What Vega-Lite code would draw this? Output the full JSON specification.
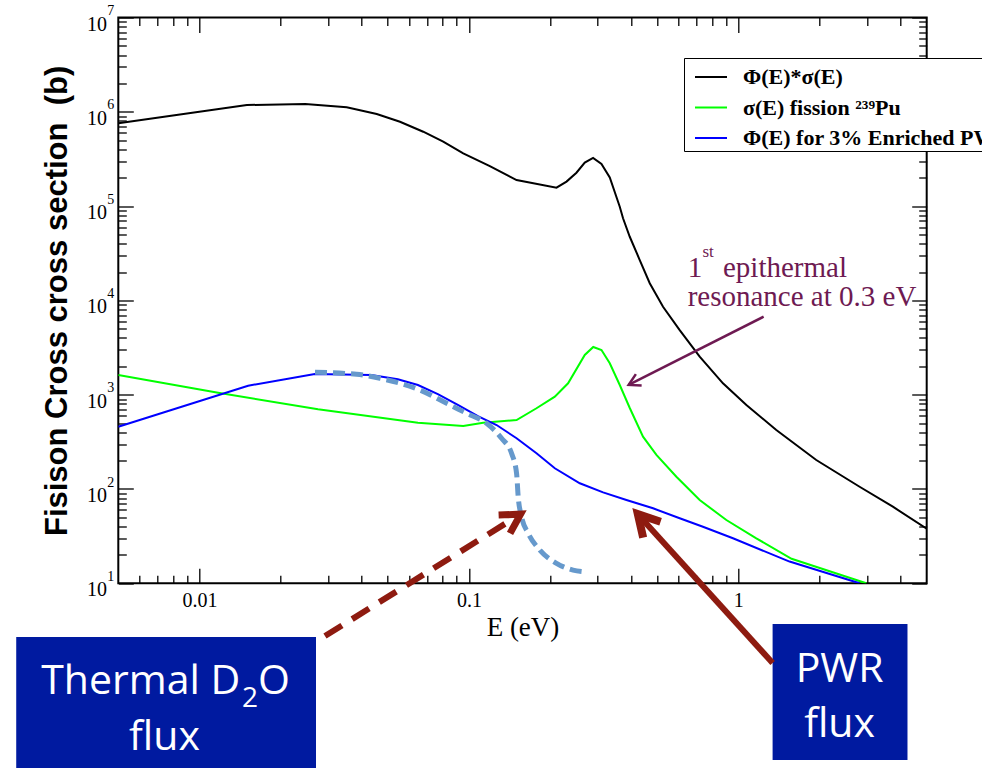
{
  "$schema": "https://vega.github.io/schema/vega-lite/v6.json",
  "width": 808.4,
  "height": 565.8,
  "autosize": {"type": "none"},
  "padding": {"left": 118.3, "top": 17.5, "right": 55.3, "bottom": 184.7},
  "background": "white",
  "config": {
    "view": {"stroke": "black", "strokeWidth": 2},
    "axis": {"grid": false, "domain": false, "labelFont": "Liberation Serif", "labelColor": "black", "tickColor": "black", "titleColor": "black"}
  },
  "datasets": {
    "curves": [
      {"series": "Φ(E)*σ(E)", "E": 0.005, "V": 755000},
      {"series": "Φ(E)*σ(E)", "E": 0.015, "V": 1180000},
      {"series": "Φ(E)*σ(E)", "E": 0.0247, "V": 1210000},
      {"series": "Φ(E)*σ(E)", "E": 0.0352, "V": 1120000},
      {"series": "Φ(E)*σ(E)", "E": 0.0455, "V": 949000},
      {"series": "Φ(E)*σ(E)", "E": 0.0555, "V": 785000},
      {"series": "Φ(E)*σ(E)", "E": 0.0677, "V": 615000},
      {"series": "Φ(E)*σ(E)", "E": 0.0803, "V": 482000},
      {"series": "Φ(E)*σ(E)", "E": 0.0953, "V": 363000},
      {"series": "Φ(E)*σ(E)", "E": 0.1196, "V": 266000},
      {"series": "Φ(E)*σ(E)", "E": 0.1503, "V": 189000},
      {"series": "Φ(E)*σ(E)", "E": 0.2114, "V": 157000},
      {"series": "Φ(E)*σ(E)", "E": 0.2303, "V": 182000},
      {"series": "Φ(E)*σ(E)", "E": 0.2507, "V": 226000},
      {"series": "Φ(E)*σ(E)", "E": 0.2692, "V": 289000},
      {"series": "Φ(E)*σ(E)", "E": 0.289, "V": 324000},
      {"series": "Φ(E)*σ(E)", "E": 0.3105, "V": 280000},
      {"series": "Φ(E)*σ(E)", "E": 0.3333, "V": 201000},
      {"series": "Φ(E)*σ(E)", "E": 0.363, "V": 98600},
      {"series": "Φ(E)*σ(E)", "E": 0.3733, "V": 74300},
      {"series": "Φ(E)*σ(E)", "E": 0.3954, "V": 47300},
      {"series": "Φ(E)*σ(E)", "E": 0.4306, "V": 26800},
      {"series": "Φ(E)*σ(E)", "E": 0.469, "V": 15200},
      {"series": "Φ(E)*σ(E)", "E": 0.5254, "V": 8570},
      {"series": "Φ(E)*σ(E)", "E": 0.6058, "V": 4850},
      {"series": "Φ(E)*σ(E)", "E": 0.7186, "V": 2530},
      {"series": "Φ(E)*σ(E)", "E": 0.8768, "V": 1321},
      {"series": "Φ(E)*σ(E)", "E": 1.071, "V": 778},
      {"series": "Φ(E)*σ(E)", "E": 1.383, "V": 423},
      {"series": "Φ(E)*σ(E)", "E": 1.946, "V": 203},
      {"series": "Φ(E)*σ(E)", "E": 2.818, "V": 105.6},
      {"series": "Φ(E)*σ(E)", "E": 3.744, "V": 64.9},
      {"series": "Φ(E)*σ(E)", "E": 5.0, "V": 38},
      {"series": "σ(E) fission ²³⁹Pu", "E": 0.005, "V": 1618},
      {"series": "σ(E) fission ²³⁹Pu", "E": 0.01173, "V": 1050},
      {"series": "σ(E) fission ²³⁹Pu", "E": 0.02755, "V": 700},
      {"series": "σ(E) fission ²³⁹Pu", "E": 0.0647, "V": 505},
      {"series": "σ(E) fission ²³⁹Pu", "E": 0.0953, "V": 466},
      {"series": "σ(E) fission ²³⁹Pu", "E": 0.113, "V": 505},
      {"series": "σ(E) fission ²³⁹Pu", "E": 0.1503, "V": 539},
      {"series": "σ(E) fission ²³⁹Pu", "E": 0.1782, "V": 718},
      {"series": "σ(E) fission ²³⁹Pu", "E": 0.2084, "V": 952},
      {"series": "σ(E) fission ²³⁹Pu", "E": 0.2334, "V": 1321},
      {"series": "σ(E) fission ²³⁹Pu", "E": 0.2692, "V": 2637},
      {"series": "σ(E) fission ²³⁹Pu", "E": 0.2894, "V": 3206},
      {"series": "σ(E) fission ²³⁹Pu", "E": 0.3105, "V": 2977},
      {"series": "σ(E) fission ²³⁹Pu", "E": 0.3333, "V": 2153},
      {"series": "σ(E) fission ²³⁹Pu", "E": 0.363, "V": 1267},
      {"series": "σ(E) fission ²³⁹Pu", "E": 0.3954, "V": 723},
      {"series": "σ(E) fission ²³⁹Pu", "E": 0.4428, "V": 359},
      {"series": "σ(E) fission ²³⁹Pu", "E": 0.4965, "V": 230},
      {"series": "σ(E) fission ²³⁹Pu", "E": 0.5889, "V": 135},
      {"series": "σ(E) fission ²³⁹Pu", "E": 0.7186, "V": 76.4},
      {"series": "σ(E) fission ²³⁹Pu", "E": 0.9026, "V": 46.9},
      {"series": "σ(E) fission ²³⁹Pu", "E": 1.166, "V": 30},
      {"series": "σ(E) fission ²³⁹Pu", "E": 1.576, "V": 18.2},
      {"series": "σ(E) fission ²³⁹Pu", "E": 2.983, "V": 10},
      {"series": "Φ(E) for 3% Enriched PWR", "E": 0.005, "V": 458},
      {"series": "Φ(E) for 3% Enriched PWR", "E": 0.01516, "V": 1245},
      {"series": "Φ(E) for 3% Enriched PWR", "E": 0.0268, "V": 1660},
      {"series": "Φ(E) for 3% Enriched PWR", "E": 0.0434, "V": 1618},
      {"series": "Φ(E) for 3% Enriched PWR", "E": 0.0545, "V": 1455},
      {"series": "Φ(E) for 3% Enriched PWR", "E": 0.0647, "V": 1267},
      {"series": "Φ(E) for 3% Enriched PWR", "E": 0.0767, "V": 1016},
      {"series": "Φ(E) for 3% Enriched PWR", "E": 0.091, "V": 778},
      {"series": "Φ(E) for 3% Enriched PWR", "E": 0.108, "V": 594},
      {"series": "Φ(E) for 3% Enriched PWR", "E": 0.1267, "V": 477},
      {"series": "Φ(E) for 3% Enriched PWR", "E": 0.1503, "V": 345},
      {"series": "Φ(E) for 3% Enriched PWR", "E": 0.1782, "V": 239},
      {"series": "Φ(E) for 3% Enriched PWR", "E": 0.2084, "V": 166},
      {"series": "Φ(E) for 3% Enriched PWR", "E": 0.258, "V": 115},
      {"series": "Φ(E) for 3% Enriched PWR", "E": 0.3148, "V": 92.2},
      {"series": "Φ(E) for 3% Enriched PWR", "E": 0.3843, "V": 76.4},
      {"series": "Φ(E) for 3% Enriched PWR", "E": 0.4824, "V": 62.4},
      {"series": "Φ(E) for 3% Enriched PWR", "E": 0.6058, "V": 48.9},
      {"series": "Φ(E) for 3% Enriched PWR", "E": 0.7389, "V": 39.8},
      {"series": "Φ(E) for 3% Enriched PWR", "E": 0.955, "V": 30},
      {"series": "Φ(E) for 3% Enriched PWR", "E": 1.549, "V": 17},
      {"series": "Φ(E) for 3% Enriched PWR", "E": 2.818, "V": 10}
    ],
    "d2o": [
      {"E": 0.02685, "V": 1728},
      {"E": 0.03834, "V": 1644},
      {"E": 0.04677, "V": 1493},
      {"E": 0.0658, "V": 1122},
      {"E": 0.0827, "V": 811},
      {"E": 0.0981, "V": 635},
      {"E": 0.1163, "V": 498},
      {"E": 0.1322, "V": 345},
      {"E": 0.144, "V": 239},
      {"E": 0.1503, "V": 146.6},
      {"E": 0.1524, "V": 82.8},
      {"E": 0.1568, "V": 50.8},
      {"E": 0.166, "V": 33.9},
      {"E": 0.1834, "V": 22.5},
      {"E": 0.2114, "V": 16.3},
      {"E": 0.2436, "V": 13.8},
      {"E": 0.2653, "V": 13.3}
    ],
    "boxes": [
      {"E": 0.00209, "E2": 0.02708, "V": 2.695, "V2": 0.09},
      {"E": 1.34, "E2": 4.243, "V": 3.7, "V2": 0.1337}
    ],
    "resShaft": [{"E": 1.241, "V": 6714, "E2": 0.3916, "V2": 1270}],
    "resHead": [{"E": 0.3916, "V": 1270}],
    "pwrShaft": [{"E": 1.34, "V": 1.429, "E2": 0.4236, "V2": 54.1}],
    "pwrHead": [{"E": 0.4236, "V": 54.1}],
    "d2oShaft": [{"E": 0.02924, "V": 2.76, "E2": 0.1556, "V2": 54.2}],
    "d2oHead": [{"E": 0.1556, "V": 54.2}],
    "resText": [
      {"E": 0.6486, "V": 17830, "t": "1"},
      {"E": 0.8768, "V": 17830, "t": "epithermal"},
      {"E": 0.6486, "V": 8790, "t": "resonance at 0.3 eV"}
    ],
    "resSup": [{"E": 0.7355, "V": 29070, "t": "st"}],
    "boxTextCenter": [
      {"E": 0.00742, "V": 0.1707, "t": "flux"},
      {"E": 2.375, "V": 0.905, "t": "PWR"},
      {"E": 2.375, "V": 0.2362, "t": "flux"}
    ],
    "boxTextLeft": [
      {"E": 0.002588, "V": 0.67, "t": "Thermal D"},
      {"E": 0.0165, "V": 0.67, "t": "O"}
    ],
    "boxTextSub": [
      {"E": 0.0144, "V": 0.4878, "t": "2"}
    ]
  },
  "resolve": {"axis": {"x": "independent", "y": "independent"}},
  "layer": [
    {
      "data": {"name": "curves"},
      "mark": {"type": "line", "strokeWidth": 2, "clip": true},
      "encoding": {
        "x": {"field": "E", "type": "quantitative", "scale": {"type": "log", "domain": [0.005, 5], "nice": false},
          "axis": {"orient": "bottom", "values": [0.01, 0.1, 1], "format": "~g", "ticks": false, "domain": false, "labelFontSize": 20, "labelBaseline": "alphabetic", "labelPadding": 23.4, "labelFlush": false, "labelOverlap": false,
            "title": "E (eV)", "titleFont": "Liberation Serif", "titleFontSize": 27, "titleFontWeight": "normal", "titleBaseline": "alphabetic", "titleX": 404.2, "titleY": 51.7}},
        "y": {"field": "V", "type": "quantitative", "scale": {"type": "log", "domain": [10, 10000000], "nice": false},
          "axis": {"orient": "left", "values": [10, 100, 1000, 10000, 100000, 1000000, 10000000], "labelExpr": "'10'", "ticks": false, "domain": false, "labelFontSize": 20, "labelAlign": "right", "labelBaseline": "alphabetic", "labelOffset": 12.5, "labelPadding": 11.8, "labelOverlap": false, "labelFlush": false,
            "title": "Fisison Cross cross section\u00a0 (b)", "titleFont": "Liberation Sans", "titleFontWeight": "bold", "titleFontSize": 31, "titleBaseline": "alphabetic", "titleAngle": 270, "titleAlign": "center", "titleX": -51.6, "titleY": 282.9}},
        "color": {"field": "series", "type": "nominal",
          "scale": {"domain": ["Φ(E)*σ(E)", "σ(E) fission ²³⁹Pu", "Φ(E) for 3% Enriched PWR"], "range": ["#000000", "#00ff00", "#0000ff"]},
          "legend": {"title": null, "orient": "none", "legendX": 565.7, "legendY": 40.5, "direction": "vertical", "fillColor": "white", "strokeColor": "black", "padding": 2,
            "symbolType": "stroke", "symbolSize": 1024, "symbolStrokeWidth": 2, "symbolOffset": 8, "labelOffset": 15, "labelFont": "Liberation Serif", "labelFontWeight": "bold", "labelFontSize": 22, "labelColor": "black", "labelLimit": 600, "rowPadding": 2.5}}
      }
    },
    {
      "data": {"name": "d2o"},
      "mark": {"type": "line", "stroke": "#6699cc", "strokeWidth": 5, "strokeDash": [12, 6], "interpolate": "monotone"},
      "encoding": {
        "x": {"field": "E", "type": "quantitative", "scale": {"type": "log", "domain": [0.005, 5], "nice": false},
          "axis": {"orient": "bottom", "values": [0.01, 0.1, 1], "labels": true, "labelExpr": "''", "domain": false, "ticks": true, "offset": -15, "tickSize": 15, "tickWidth": 1.3, "title": null}},
        "y": {"field": "V", "type": "quantitative", "scale": {"type": "log", "domain": [10, 10000000], "nice": false},
          "axis": {"orient": "left", "values": [10, 100, 1000, 10000, 100000, 1000000, 10000000], "labelExpr": "format(round(log(datum.value)/LN10), 'd')", "ticks": false, "domain": false, "labelFontSize": 14, "labelAlign": "left", "labelBaseline": "alphabetic", "labelOffset": -3, "labelPadding": 11.6, "labelOverlap": false, "labelFlush": false, "title": null}}
      }
    },
    {
      "data": {"name": "boxes"},
      "mark": {"type": "rect", "fill": "#001aa0"},
      "encoding": {
        "x": {"field": "E", "type": "quantitative", "scale": {"type": "log", "domain": [0.005, 5], "nice": false},
          "axis": {"orient": "bottom", "values": [0.006, 0.007, 0.008, 0.009, 0.02, 0.03, 0.04, 0.05, 0.06, 0.07, 0.08, 0.09, 0.2, 0.3, 0.4, 0.5, 0.6, 0.7, 0.8, 0.9, 2, 3, 4], "labels": true, "labelExpr": "''", "domain": false, "ticks": true, "offset": -8, "tickSize": 8, "tickWidth": 1.3, "title": null}},
        "x2": {"field": "E2"},
        "y": {"field": "V", "type": "quantitative", "scale": {"type": "log", "domain": [10, 10000000], "nice": false},
          "axis": {"orient": "left", "values": [10, 100, 1000, 10000, 100000, 1000000, 10000000], "labels": true, "labelExpr": "''", "domain": false, "ticks": true, "offset": -15, "tickSize": 15, "tickWidth": 1.3, "title": null}},
        "y2": {"field": "V2"}
      }
    },
    {
      "data": {"name": "resShaft"},
      "mark": {"type": "rule", "stroke": "#6e1a52", "strokeWidth": 2.5},
      "encoding": {
        "x": {"field": "E", "type": "quantitative", "scale": {"type": "log", "domain": [0.005, 5], "nice": false},
          "axis": {"orient": "top", "values": [0.01, 0.1, 1], "labels": true, "labelExpr": "''", "domain": false, "ticks": true, "offset": -15, "tickSize": 15, "tickWidth": 1.3, "title": null}},
        "x2": {"field": "E2"},
        "y": {"field": "V", "type": "quantitative", "scale": {"type": "log", "domain": [10, 10000000], "nice": false},
          "axis": {"orient": "left", "values": [20, 30, 40, 50, 60, 70, 80, 90, 200, 300, 400, 500, 600, 700, 800, 900, 2000, 3000, 4000, 5000, 6000, 7000, 8000, 9000, 20000, 30000, 40000, 50000, 60000, 70000, 80000, 90000, 200000, 300000, 400000, 500000, 600000, 700000, 800000, 900000, 2000000, 3000000, 4000000, 5000000, 6000000, 7000000, 8000000, 9000000], "labels": true, "labelExpr": "''", "domain": false, "ticks": true, "offset": -8, "tickSize": 8, "tickWidth": 1.3, "title": null}},
        "y2": {"field": "V2"}
      }
    },
    {
      "data": {"name": "resHead"},
      "mark": {"type": "point", "shape": "M-0.9,1.6L0,0L0.9,1.6", "size": 201, "filled": false, "stroke": "#6e1a52", "strokeWidth": 2.5, "opacity": 1, "angle": 243.2, "strokeJoin": "miter"},
      "encoding": {
        "x": {"field": "E", "type": "quantitative", "scale": {"type": "log", "domain": [0.005, 5], "nice": false},
          "axis": {"orient": "top", "values": [0.006, 0.007, 0.008, 0.009, 0.02, 0.03, 0.04, 0.05, 0.06, 0.07, 0.08, 0.09, 0.2, 0.3, 0.4, 0.5, 0.6, 0.7, 0.8, 0.9, 2, 3, 4], "labels": true, "labelExpr": "''", "domain": false, "ticks": true, "offset": -8, "tickSize": 8, "tickWidth": 1.3, "title": null}},
        "y": {"field": "V", "type": "quantitative", "scale": {"type": "log", "domain": [10, 10000000], "nice": false},
          "axis": {"orient": "right", "values": [10, 100, 1000, 10000, 100000, 1000000, 10000000], "labels": true, "labelExpr": "''", "domain": false, "ticks": true, "offset": -15, "tickSize": 15, "tickWidth": 1.3, "title": null}}
      }
    },
    {
      "data": {"name": "pwrShaft"},
      "mark": {"type": "rule", "stroke": "#8e1b10", "strokeWidth": 6},
      "encoding": {
        "x": {"field": "E", "type": "quantitative", "scale": {"type": "log", "domain": [0.005, 5], "nice": false}, "axis": null},
        "x2": {"field": "E2"},
        "y": {"field": "V", "type": "quantitative", "scale": {"type": "log", "domain": [10, 10000000], "nice": false},
          "axis": {"orient": "right", "values": [20, 30, 40, 50, 60, 70, 80, 90, 200, 300, 400, 500, 600, 700, 800, 900, 2000, 3000, 4000, 5000, 6000, 7000, 8000, 9000, 20000, 30000, 40000, 50000, 60000, 70000, 80000, 90000, 200000, 300000, 400000, 500000, 600000, 700000, 800000, 900000, 2000000, 3000000, 4000000, 5000000, 6000000, 7000000, 8000000, 9000000], "labels": true, "labelExpr": "''", "domain": false, "ticks": true, "offset": -8, "tickSize": 8, "tickWidth": 1.3, "title": null}},
        "y2": {"field": "V2"}
      }
    },
    {
      "data": {"name": "pwrHead"},
      "mark": {"type": "point", "shape": "M-0.9,1.6L0,0L0.9,1.6", "size": 683, "filled": false, "stroke": "#8e1b10", "strokeWidth": 8, "opacity": 1, "angle": 317.8, "strokeJoin": "miter"},
      "encoding": {
        "x": {"field": "E", "type": "quantitative", "scale": {"type": "log", "domain": [0.005, 5], "nice": false}, "axis": null},
        "y": {"field": "V", "type": "quantitative", "scale": {"type": "log", "domain": [10, 10000000], "nice": false}, "axis": null}
      }
    },
    {
      "data": {"name": "d2oShaft"},
      "mark": {"type": "rule", "stroke": "#8e1b10", "strokeWidth": 6, "strokeDash": [20, 12]},
      "encoding": {
        "x": {"field": "E", "type": "quantitative", "scale": {"type": "log", "domain": [0.005, 5], "nice": false}, "axis": null},
        "x2": {"field": "E2"},
        "y": {"field": "V", "type": "quantitative", "scale": {"type": "log", "domain": [10, 10000000], "nice": false}, "axis": null},
        "y2": {"field": "V2"}
      }
    },
    {
      "data": {"name": "d2oHead"},
      "mark": {"type": "point", "shape": "M-0.9,1.6L0,0L0.9,1.6", "size": 576, "filled": false, "stroke": "#8e1b10", "strokeWidth": 7, "opacity": 1, "angle": 58.1, "strokeJoin": "miter"},
      "encoding": {
        "x": {"field": "E", "type": "quantitative", "scale": {"type": "log", "domain": [0.005, 5], "nice": false}, "axis": null},
        "y": {"field": "V", "type": "quantitative", "scale": {"type": "log", "domain": [10, 10000000], "nice": false}, "axis": null}
      }
    },
    {
      "data": {"name": "resText"},
      "mark": {"type": "text", "align": "left", "baseline": "alphabetic", "font": "Liberation Serif", "fontSize": 29, "fill": "#6e1a52"},
      "encoding": {
        "x": {"field": "E", "type": "quantitative", "scale": {"type": "log", "domain": [0.005, 5], "nice": false}, "axis": null},
        "y": {"field": "V", "type": "quantitative", "scale": {"type": "log", "domain": [10, 10000000], "nice": false}, "axis": null},
        "text": {"field": "t"}
      }
    },
    {
      "data": {"name": "resSup"},
      "mark": {"type": "text", "align": "left", "baseline": "alphabetic", "font": "Liberation Serif", "fontSize": 17, "fill": "#6e1a52"},
      "encoding": {
        "x": {"field": "E", "type": "quantitative", "scale": {"type": "log", "domain": [0.005, 5], "nice": false}, "axis": null},
        "y": {"field": "V", "type": "quantitative", "scale": {"type": "log", "domain": [10, 10000000], "nice": false}, "axis": null},
        "text": {"field": "t"}
      }
    },
    {
      "data": {"name": "boxTextCenter"},
      "mark": {"type": "text", "align": "center", "baseline": "alphabetic", "font": "Open Sans", "fontSize": 41, "fill": "white"},
      "encoding": {
        "x": {"field": "E", "type": "quantitative", "scale": {"type": "log", "domain": [0.005, 5], "nice": false}, "axis": null},
        "y": {"field": "V", "type": "quantitative", "scale": {"type": "log", "domain": [10, 10000000], "nice": false}, "axis": null},
        "text": {"field": "t"}
      }
    },
    {
      "data": {"name": "boxTextLeft"},
      "mark": {"type": "text", "align": "left", "baseline": "alphabetic", "font": "Open Sans", "fontSize": 41, "fill": "white"},
      "encoding": {
        "x": {"field": "E", "type": "quantitative", "scale": {"type": "log", "domain": [0.005, 5], "nice": false}, "axis": null},
        "y": {"field": "V", "type": "quantitative", "scale": {"type": "log", "domain": [10, 10000000], "nice": false}, "axis": null},
        "text": {"field": "t"}
      }
    },
    {
      "data": {"name": "boxTextSub"},
      "mark": {"type": "text", "align": "left", "baseline": "alphabetic", "font": "Open Sans", "fontSize": 28, "fill": "white"},
      "encoding": {
        "x": {"field": "E", "type": "quantitative", "scale": {"type": "log", "domain": [0.005, 5], "nice": false}, "axis": null},
        "y": {"field": "V", "type": "quantitative", "scale": {"type": "log", "domain": [10, 10000000], "nice": false}, "axis": null},
        "text": {"field": "t"}
      }
    }
  ]
}
